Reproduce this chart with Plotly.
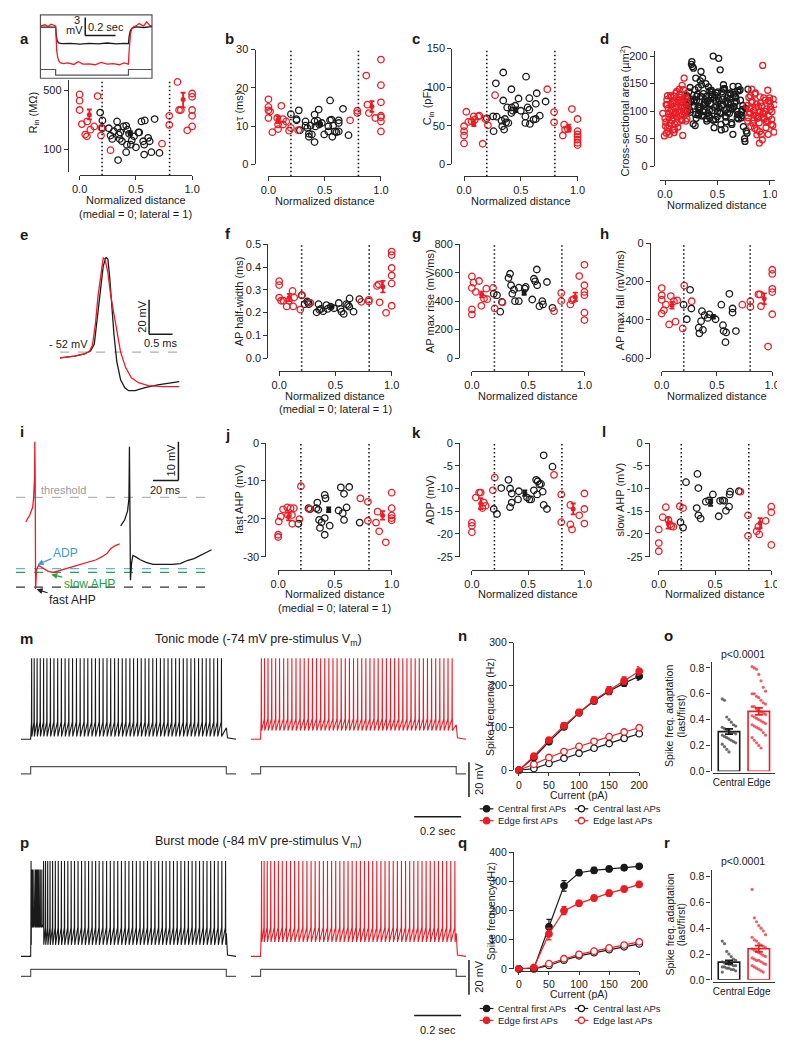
import numpy as np
import plotly.graph_objects as go

W, H = 785, 1050
FONT = "Liberation Sans, Arial, Helvetica, sans-serif"
RED = "#ec1c24"
BLK = "#1a1a1a"
AXC = "#333333"
GREY = "#8c8c8c"
TXT = "#1a1a1a"

BOUNDARIES = [0.2, 0.8]
XT_V = [0, 0.5, 1]
XT_T = ["0.0", "0.5", "1.0"]

# ---------------- panel a: input resistance ----------------
a_red_x = [0.0, 0.0, 0.0, 0.02, 0.05, 0.067, 0.065, 0.096, 0.13, 0.16, 0.19, 0.194, 0.275, 0.733, 0.797, 0.797, 0.87, 0.884, 0.9, 0.957, 1.0, 1.0, 1.0, 1.0, 1.0, 1.0, 1.0]
a_red_y = [446, 376, 292, 199, 150, 214, 143, 171, 187, 426, 146, 179, 98, 117, 249, 195, 625, 292, 292, 168, 1222, 795, 457, 418, 292, 249, 187]
a_blk_x = [0.183, 0.203, 0.203, 0.26, 0.275, 0.29, 0.333, 0.34, 0.348, 0.357, 0.362, 0.377, 0.414, 0.426, 0.44, 0.42, 0.414, 0.342, 0.464, 0.484, 0.501, 0.522, 0.53, 0.55, 0.565, 0.574, 0.58, 0.574, 0.609, 0.623, 0.638, 0.667, 0.71, 0.304, 0.39, 0.455]
a_blk_y = [272, 220, 178, 178, 146, 133, 214, 178, 150, 133, 159, 125, 190, 171, 153, 114, 93, 75, 128, 143, 106, 159, 159, 214, 125, 114, 220, 87, 137, 125, 93, 228, 91, 164, 187, 114]
a_mean_x = [0.087, 0.45, 0.92]
a_mean_y = [256, 155, 389]
a_mean_ep = [40, 9, 77]
a_mean_em = [30, 8, 75]
# inset traces (s, mV)
a_in_t_blk = [0, 0.05, 0.1, 0.104, 0.11, 0.12, 0.14, 0.2, 0.26, 0.32, 0.38, 0.44, 0.5, 0.55, 0.58, 0.584, 0.592, 0.605, 0.63, 0.68, 0.735]
a_in_v_blk = [0, 0.05, 0, -1.3, -2.3, -2.65, -2.75, -2.7, -2.85, -2.7, -2.8, -2.65, -2.8, -2.7, -2.75, -1.6, -0.6, -0.1, 0.05, -0.05, 0.1]
a_in_t_red = [0, 0.03, 0.05, 0.07, 0.1, 0.103, 0.107, 0.113, 0.12, 0.13, 0.15, 0.18, 0.22, 0.25, 0.28, 0.32, 0.36, 0.4, 0.44, 0.48, 0.52, 0.55, 0.58, 0.583, 0.587, 0.593, 0.6, 0.615, 0.63, 0.65, 0.68, 0.7, 0.72, 0.735]
a_in_v_red = [0.2, 0.4, 0.1, 0.5, 0.2, -2.0, -3.9, -5.0, -5.6, -5.95, -6.1, -6.0, -6.25, -5.8, -6.2, -6.15, -6.3, -5.9, -6.2, -6.1, -6.3, -6.0, -6.2, -4.5, -2.8, -1.2, -0.4, 0.1, 0.2, 0.6, 0.2, 0.9, 0.3, 0.2]
a_in_stim_t = [0, 0.1, 0.58, 0.735]
a_in_stim_i = [0, -1, 0, 0]

# ---------------- panel b: tau ----------------
b_red_x = [0, 0, 0, 0, 0.015, 0.035, 0.078, 0.086, 0.086, 0.115, 0.13, 0.13, 0.158, 0.184, 0.2, 0.265, 0.726, 0.79, 0.79, 0.87, 0.88, 0.893, 0.95, 1, 1, 1, 1, 1, 1, 1]
b_red_y = [17.0, 15.0, 14.1, 12.1, 13.8, 8.4, 12.1, 9.2, 10.4, 15.3, 11.8, 10.4, 11.2, 8.8, 9.5, 8.9, 11.5, 13.4, 14.0, 23.2, 15.6, 13.4, 12.1, 27.4, 20.7, 16.2, 12.7, 12.3, 11.2, 8.6]
b_blk_x = [0.2, 0.27, 0.25, 0.25, 0.28, 0.33, 0.33, 0.346, 0.36, 0.36, 0.386, 0.375, 0.41, 0.41, 0.418, 0.41, 0.447, 0.438, 0.452, 0.475, 0.496, 0.533, 0.533, 0.548, 0.548, 0.56, 0.576, 0.568, 0.59, 0.605, 0.625, 0.625, 0.625, 0.663, 0.712]
b_blk_y = [13.1, 14.1, 11.8, 11.5, 8.9, 11.2, 10.1, 9.5, 8.0, 7.2, 7.8, 10.1, 13.0, 11.2, 9.9, 5.8, 14.3, 11.4, 10.4, 10.8, 7.8, 8.6, 9.9, 16.7, 11.5, 11.7, 10.1, 7.2, 8.6, 8.4, 10.8, 11.5, 8.6, 14.5, 7.6]
b_mean_x = [0.086, 0.458, 0.92]
b_mean_y = [11.7, 10.5, 15.1]
b_mean_e = [0.9, 0.4, 1.4]

# ---------------- panel c: capacitance ----------------
c_red_x = [0, 0, 0, 0, 0.02, 0.037, 0.066, 0.086, 0.095, 0.124, 0.135, 0.164, 0.187, 0.21, 0.273, 0.733, 0.793, 0.793, 0.87, 0.882, 0.89, 0.914, 0.95, 1, 1, 1, 1, 1, 1, 1]
c_red_y = [27, 37.3, 42.9, 49.3, 68.1, 54.9, 55.7, 62.1, 57.9, 62.1, 63, 26.6, 58.7, 50.6, 89.6, 97.3, 67.7, 54.4, 37.3, 51.4, 45, 45.9, 71.6, 58.7, 42.9, 38.6, 35.6, 32.1, 27.9, 24.9]
c_blk_x = [0.2, 0.26, 0.28, 0.287, 0.256, 0.345, 0.345, 0.33, 0.336, 0.353, 0.36, 0.37, 0.39, 0.38, 0.417, 0.417, 0.42, 0.43, 0.45, 0.48, 0.5, 0.546, 0.54, 0.54, 0.56, 0.575, 0.575, 0.58, 0.612, 0.632, 0.632, 0.64, 0.667, 0.718]
c_blk_y = [59.6, 42.9, 105, 61.7, 62.1, 119, 82.7, 56.6, 49.3, 45, 58.7, 54.4, 53.6, 73.7, 97.3, 66.4, 73.7, 69.4, 75.9, 85.3, 69.4, 113.6, 53.6, 62.1, 73.7, 70.7, 85.7, 52.3, 57.9, 58.7, 78.4, 92.1, 63, 81.4]
c_mean_x = [0.086, 0.454, 0.922]
c_mean_y = [53.6, 70.7, 47]
c_mean_e = [4, 3, 4.5]

# ---------------- panel d: cross-sectional area ----------------
d_red_x = [0.00, 0.013, 0.021, 0.034, 0.038, 0.052, 0.061, 0.068, 0.083, 0.091, 0.097, 0.112, 0.118, 0.131, 0.142, 0.148, 0.163, 0.171, 0.179, 0.192, 0.198, 0.211,
           0.004, 0.018, 0.029, 0.047, 0.056, 0.077, 0.088, 0.106, 0.121, 0.137, 0.153, 0.166, 0.184, 0.203,
           -0.021, 0.008, 0.031, 0.042, 0.063, 0.072, 0.094, 0.103, 0.124, 0.128, 0.151, 0.158, 0.176, 0.188, 0.214,
           -0.006, 0.024, 0.049, 0.071, 0.081, 0.099, 0.133, 0.139, 0.161, 0.174, 0.194, 0.207,
           0.011, 0.037, 0.058, 0.086, 0.109, 0.144, 0.182, 0.209, 0.026, 0.116, 0.169,
           0.781, 0.793, 0.799, 0.812, 0.818, 0.831, 0.842, 0.848, 0.861, 0.869, 0.878, 0.891, 0.897, 0.911, 0.918, 0.932, 0.941, 0.947, 0.962, 0.968, 0.979, 0.991, 0.998, 1.012, 1.019, 1.031, 1.038, 1.052,
           0.788, 0.806, 0.827, 0.853, 0.872, 0.884, 0.906, 0.927, 0.951, 0.973, 0.986, 1.006, 1.027,
           0.803, 0.824, 0.836, 0.857, 0.881, 0.902, 0.923, 0.938, 0.957, 0.984, 1.002, 1.016, 1.043,
           0.815, 0.846, 0.876, 0.908, 0.931, 0.966, 0.996, 0.864, 0.899, 0.944]
d_red_y = [87, 60, 112, 95, 74, 128, 102, 84, 119, 66, 97, 136, 79, 108, 125, 91, 147, 115, 99, 131, 82, 118,
           73, 121, 63, 99, 113, 88, 127, 104, 71, 140, 118, 94, 109, 124,
           96, 80, 105, 58, 92, 117, 76, 133, 100, 122, 85, 110, 139, 93, 107,
           55, 128, 78, 115, 67, 95, 101, 130, 83, 121, 98, 103,
           112, 89, 126, 61, 107, 115, 160, 86, 70, 90, 56,
           110, 88, 125, 96, 72, 118, 101, 84, 133, 92, 66, 108, 79, 115, 58, 97, 124, 86, 70, 104, 138, 91, 117, 76, 99, 122, 62, 94,
           82, 105, 140, 69, 113, 90, 126, 48, 100, 83, 119, 108, 74,
           97, 116, 78, 131, 87, 63, 109, 95, 120, 58, 103, 85, 112,
           128, 93, 57, 100, 183, 80, 124, 107, 42, 89]
d_blk_x = [0.204, 0.226, 0.241, 0.262, 0.281, 0.297, 0.318, 0.334, 0.352, 0.371, 0.389, 0.402, 0.423, 0.441, 0.458, 0.477, 0.493, 0.512, 0.529, 0.546, 0.567, 0.583, 0.601, 0.618, 0.637, 0.652, 0.674, 0.693, 0.716, 0.738,
           0.219, 0.235, 0.256, 0.273, 0.291, 0.309, 0.326, 0.343, 0.362, 0.381, 0.396, 0.414, 0.432, 0.449, 0.468, 0.486, 0.503, 0.521, 0.538, 0.557, 0.574, 0.592, 0.611, 0.628, 0.647, 0.663, 0.684, 0.706, 0.727,
           0.208, 0.239, 0.268, 0.299, 0.327, 0.358, 0.386, 0.417, 0.447, 0.474, 0.508, 0.536, 0.563, 0.596, 0.624, 0.657, 0.688, 0.719, 0.747, 0.768, 0.791,
           0.252, 0.276, 0.303, 0.322, 0.347, 0.376, 0.398, 0.427, 0.452, 0.471, 0.497, 0.526, 0.551, 0.572, 0.603, 0.626, 0.648, 0.679, 0.702, 0.731, 0.758,
           0.213, 0.259, 0.287, 0.336, 0.367, 0.409, 0.438, 0.482, 0.517, 0.554, 0.587, 0.633, 0.668, 0.711, 0.774,
           0.244, 0.284, 0.314, 0.354, 0.393, 0.437, 0.459, 0.499, 0.541, 0.579, 0.617, 0.659, 0.697, 0.762,
           0.271, 0.315, 0.366, 0.411, 0.463, 0.516, 0.566, 0.614, 0.672, 0.742,
           0.231, 0.293, 0.339, 0.384, 0.426, 0.489, 0.533, 0.581, 0.642, 0.691, 0.734, 0.781]
d_blk_y = [112, 135, 98, 181, 120, 87, 143, 105, 126, 92, 150, 117, 101, 138, 84, 129, 110, 196, 96, 122, 141, 89, 115, 133, 76, 108, 124, 94, 139, 103,
           125, 102, 190, 117, 94, 131, 108, 172, 99, 121, 86, 144, 113, 127, 70, 118, 135, 97, 109, 148, 91, 124, 106, 131, 58, 115, 100, 137, 88,
           128, 143, 77, 119, 101, 160, 113, 92, 134, 107, 123, 66, 141, 97, 116, 131, 88, 120, 72, 105, 140,
           185, 109, 127, 95, 148, 116, 82, 137, 101, 124, 90, 175, 112, 68, 129, 104, 145, 118, 86, 99, 50,
           100, 122, 74, 155, 111, 96, 130, 85, 119, 140, 103, 79, 126, 94, 64,
           118, 139, 106, 91, 127, 114, 200, 99, 135, 81, 122, 108, 145, 45,
           178, 93, 132, 119, 84, 107, 141, 96, 125, 110,
           114, 160, 127, 101, 88, 133, 76, 118, 104, 137, 92, 60]

# ---------------- panel e: AP waveforms (ms, mV) ----------------
e_red_t = [0, 0.31, 0.52, 0.63, 0.69, 0.75, 0.81, 0.88, 0.92, 0.96, 1.02, 1.08, 1.15, 1.21, 1.29, 1.4, 1.52, 1.67, 1.88, 2.19, 2.54]
e_red_v = [-55.4, -54.3, -53.1, -51.4, -48, -36.6, -19.4, -4, 2.3, 1.7, -6.3, -19.4, -30.9, -41.1, -52, -61.1, -66.9, -69.7, -71.4, -72, -72]
e_blk_t = [0, 0.31, 0.52, 0.65, 0.73, 0.79, 0.85, 0.92, 0.98, 1.02, 1.06, 1.1, 1.15, 1.21, 1.29, 1.38, 1.46, 1.6, 1.81, 2.08, 2.54]
e_blk_v = [-55.4, -54.3, -53.1, -51.4, -47.4, -33.7, -16.6, -2.3, 2.9, 1.7, -9.7, -25.1, -42.3, -57.7, -68, -72.6, -74.3, -74.3, -72.6, -70.9, -69.1]
e_ref_v = -52

# ---------------- panels f, g, h ----------------
f_red_x = [0, 0, 0, 0.017, 0.038, 0.067, 0.087, 0.119, 0.133, 0.125, 0.188, 0.203, 0.278, 0.73, 0.797, 0.797, 0.87, 0.884, 0.893, 0.95, 1, 1, 1, 1, 1, 1]
f_red_y = [0.338, 0.321, 0.266, 0.252, 0.252, 0.227, 0.252, 0.295, 0.266, 0.227, 0.213, 0.276, 0.242, 0.247, 0.256, 0.249, 0.317, 0.324, 0.245, 0.199, 0.468, 0.453, 0.396, 0.363, 0.328, 0.23]
f_blk_x = [0.2, 0.226, 0.249, 0.26, 0.264, 0.333, 0.35, 0.357, 0.371, 0.391, 0.42, 0.43, 0.458, 0.487, 0.53, 0.545, 0.554, 0.574, 0.597, 0.612, 0.623, 0.626, 0.661, 0.713]
f_blk_y = [0.276, 0.237, 0.249, 0.245, 0.237, 0.201, 0.237, 0.212, 0.216, 0.206, 0.233, 0.216, 0.226, 0.219, 0.242, 0.216, 0.204, 0.194, 0.237, 0.233, 0.226, 0.262, 0.204, 0.259]
f_mean_x = [0.09, 0.464, 0.922]
f_mean_y = [0.266, 0.226, 0.314]
f_mean_e = [0.016, 0.006, 0.025]

g_red_x = [0, 0, 0, 0, 0.014, 0.035, 0.064, 0.084, 0.107, 0.128, 0.136, 0.188, 0.203, 0.272, 0.73, 0.794, 0.794, 0.875, 0.89, 0.904, 0.954, 1, 1, 1, 1, 1, 1]
g_red_y = [574, 493, 342, 307, 530, 465, 542, 367, 419, 488, 414, 493, 349, 391, 330, 458, 402, 377, 407, 414, 577, 656, 512, 465, 442, 319, 267]
g_blk_x = [0.194, 0.223, 0.252, 0.267, 0.325, 0.339, 0.348, 0.359, 0.374, 0.383, 0.417, 0.417, 0.47, 0.478, 0.536, 0.551, 0.562, 0.577, 0.58, 0.6, 0.626, 0.632, 0.667, 0.716]
g_blk_y = [453, 442, 326, 395, 563, 593, 512, 453, 481, 400, 400, 495, 488, 500, 412, 558, 540, 623, 512, 365, 400, 377, 535, 353]
g_mean_x = [0.087, 0.464, 0.919]
g_mean_y = [447, 460, 430]
g_mean_e = [20, 15, 30]

h_red_x = [0, 0, 0, 0, 0.02, 0.038, 0.067, 0.082, 0.111, 0.125, 0.14, 0.19, 0.204, 0.271, 0.729, 0.802, 0.802, 0.875, 0.889, 0.898, 0.962, 1, 1, 1, 1, 1]
h_red_y = [-234, -272, -295, -367, -350, -321, -424, -276, -303, -410, -298, -445, -221, -303, -321, -303, -333, -267, -267, -329, -540, -138, -160, -238, -255, -371]
h_blk_x = [0.198, 0.227, 0.257, 0.268, 0.335, 0.341, 0.356, 0.364, 0.373, 0.388, 0.417, 0.431, 0.487, 0.539, 0.554, 0.56, 0.577, 0.583, 0.612, 0.641, 0.641, 0.671]
h_blk_y = [-321, -397, -243, -341, -441, -471, -407, -355, -453, -376, -390, -372, -397, -321, -428, -459, -517, -466, -264, -341, -362, -459]
h_mean_x = [0.093, 0.466, 0.927]
h_mean_y = [-324, -384, -290]
h_mean_e = [18, 10, 28]

# ---------------- panel i: AHP / ADP traces (ms, mV) ----------------
i_red_t = [7.7, 10.8, 13.1, 13.8, 14.6, 14.8, 15.1, 15.4, 16.2, 17.7, 21.5, 25.4, 29.2, 34.6, 42.3, 50, 57.7, 63.1, 67.7, 71.5, 74.6, 77.7, 81.5]
i_red_v = [-51.4, -49.6, -47.6, -45.3, -40.1, -30.6, -40.1, -68.8, -63.7, -62.7, -63.5, -64.2, -64.5, -64, -63.2, -62.4, -61.7, -61.2, -60.4, -59.6, -58.3, -57.6, -57.1]
i_blk_t = [82.3, 85.4, 87.7, 88.8, 89.2, 89.6, 90, 90.8, 91.9, 93.8, 97.7, 102.3, 107.7, 115.4, 123.1, 129.2, 134.6, 140, 146.2, 150, 153.8]
i_blk_v = [-52.4, -50.9, -48.6, -45.3, -31.9, -45.3, -66.5, -62.2, -60.1, -60.4, -61.2, -61.9, -62.4, -62.4, -62.4, -62.2, -61.4, -60.9, -59.9, -59.4, -58.6]
i_levels = {"threshold": -45.0, "ADP": -63.5, "slow AHP": -64.5, "fast AHP": -68.3}

# ---------------- panels j, k, l ----------------
j_red_x = [0, 0, 0.005, 0.023, 0.043, 0.08, 0.086, 0.109, 0.121, 0.124, 0.138, 0.187, 0.2, 0.273, 0.724, 0.79, 0.79, 0.862, 0.876, 0.89, 0.948, 1, 1, 1, 1, 1]
j_red_y = [-24.2, -24.8, -20.7, -19.4, -17.5, -17.0, -19.0, -17.2, -19.0, -21.3, -17.2, -20.1, -11.4, -17.4, -14.6, -15.5, -20.5, -21.0, -18.1, -23.3, -26.2, -13.1, -17.2, -19.1, -19.8, -20.4]
j_blk_x = [0.178, 0.267, 0.28, 0.336, 0.345, 0.353, 0.36, 0.368, 0.382, 0.41, 0.417, 0.41, 0.41, 0.454, 0.532, 0.552, 0.569, 0.58, 0.58, 0.603, 0.626, 0.718]
j_blk_y = [-21.3, -17.2, -17.5, -17.2, -15.7, -17.6, -20.3, -22.4, -20.9, -13.7, -14.6, -19.8, -24.2, -21.8, -17.8, -11.7, -18.5, -13.4, -20.3, -17.0, -11.6, -21.0]
j_mean_x = [0.092, 0.445, 0.92]
j_mean_y = [-19.4, -17.6, -19.1]
j_mean_e = [1.0, 0.6, 1.1]

k_red_x = [0, 0, 0, 0.035, 0.064, 0.078, 0.093, 0.107, 0.122, 0.186, 0.203, 0.73, 0.794, 0.794, 0.875, 0.875, 0.89, 0.954, 1, 1, 1]
k_red_y = [-17.5, -18.2, -19.6, -12.0, -10.9, -10.9, -14.3, -13.1, -13.8, -10.4, -7.6, -7.0, -11.3, -17.4, -13.6, -17.9, -19.0, -15.9, -11.1, -14.5, -17.7]
k_blk_x = [0.194, 0.223, 0.261, 0.325, 0.339, 0.354, 0.354, 0.339, 0.41, 0.417, 0.49, 0.51, 0.527, 0.551, 0.571, 0.585, 0.614, 0.58, 0.6, 0.629, 0.638, 0.667, 0.638, 0.716]
k_blk_y = [-14.5, -15.6, -9.9, -8.1, -14.1, -13.1, -11.1, -10.0, -12.4, -10.6, -12.0, -12.4, -12.4, -10.4, -8.1, -8.4, -9.0, -11.3, -9.1, -10.7, -13.6, -14.5, -2.7, -5.2]
k_mean_x = [0.078, 0.47, 0.9]
k_mean_y = [-13.3, -11.0, -14.5]
k_mean_e = [1.2, 0.6, 1.2]

l_red_x = [0, 0, 0, 0.035, 0.063, 0.086, 0.1, 0.112, 0.13, 0.187, 0.216, 0.726, 0.793, 0.793, 0.87, 0.885, 0.893, 0.95, 1, 1, 1]
l_red_y = [-19.0, -22.0, -23.8, -16.3, -14.1, -16.9, -17.9, -18.3, -18.4, -13.9, -14.3, -10.7, -15.9, -20.4, -19.4, -18.4, -20.1, -17.1, -14.0, -15.2, -22.4]
l_blk_x = [0.193, 0.216, 0.242, 0.344, 0.337, 0.352, 0.372, 0.352, 0.418, 0.447, 0.481, 0.533, 0.545, 0.568, 0.582, 0.597, 0.625, 0.63, 0.634, 0.712]
l_blk_y = [-17.4, -18.6, -8.6, -6.8, -14.3, -15.9, -16.6, -9.9, -12.9, -12.6, -11.3, -16.1, -12.7, -12.6, -12.7, -14.9, -14.0, -11.3, -10.7, -10.6]
l_mean_x = [0.084, 0.461, 0.9]
l_mean_y = [-17.6, -13.1, -17.6]
l_mean_e = [1.2, 0.7, 1.1]

# ---------------- panels m, p: spike trains (spike times, ms) ----------------
m_blk_spikes = [55, 68, 83, 99, 116, 133, 151, 169, 188, 207, 226, 245, 264, 284, 303, 323, 342, 362, 381, 401, 420, 440, 459, 479, 498, 518, 537, 557, 576, 596, 615, 635, 654, 674, 693, 713, 732, 752, 771, 791, 810, 830, 849, 869, 888, 908, 927, 947, 966, 986, 1005, 1025]
m_red_spikes = [54, 70, 88, 107, 127, 147, 168, 189, 210, 231, 252, 273, 294, 315, 336, 357, 378, 399, 420, 441, 462, 483, 504, 525, 546, 567, 588, 609, 630, 651, 672, 693, 714, 735, 756, 777, 798, 819, 840, 861, 882, 903, 924, 945, 966, 987, 1008, 1029]
p_blk_spikes = [52, 54.5, 57, 59.5, 62.5, 65.5, 69, 72.5, 76.5, 81, 86, 92, 99, 107, 116, 126, 137, 149, 162, 176, 191, 207, 223, 240, 257, 274, 292, 310, 328, 346, 364, 382, 400, 419, 438, 457, 476, 495, 514, 533, 552, 571, 590, 609, 628, 647, 666, 685, 704, 723, 742, 761, 780, 799, 818, 837, 856, 875, 894, 913, 932, 951, 970, 989, 1008, 1027, 1046]
p_red_spikes = [55, 68, 84, 102, 121, 141, 161, 182, 203, 224, 245, 266, 287, 308, 329, 350, 371, 392, 413, 434, 455, 476, 497, 518, 539, 560, 581, 602, 623, 644, 665, 686, 707, 728, 749, 770, 791, 812, 833, 854, 875, 896, 917, 938, 959, 980, 1001, 1022, 1043]
STIM_ON, STIM_OFF, T_END = 50, 1050, 1100

# ---------------- panels n, q: f-I curves ----------------
current_pA = [0, 25, 50, 75, 100, 125, 150, 175, 200]
n_central_first = [0, 30, 67, 102, 135, 163, 186, 205, 221]
n_central_first_err = [0, 4, 5, 6, 6, 7, 8, 8, 9]
n_edge_first = [0, 33, 71, 105, 136, 165, 188, 211, 233]
n_edge_first_err = [0, 5, 6, 7, 7, 8, 9, 9, 10]
n_central_last = [0, 4, 16, 28, 40, 52, 63, 75, 86]
n_central_last_err = [0, 2, 2, 3, 3, 3, 3, 3, 4]
n_edge_last = [0, 14, 30, 44, 56, 68, 79, 90, 100]
n_edge_last_err = [0, 2, 3, 3, 3, 3, 4, 4, 4]

q_central_first = [0, 2, 145, 285, 330, 338, 343, 347, 352]
q_central_first_err = [0, 2, 25, 18, 10, 10, 9, 9, 9]
q_edge_first = [0, 5, 120, 200, 225, 243, 260, 274, 290]
q_edge_first_err = [0, 3, 20, 14, 10, 10, 10, 10, 10]
q_central_last = [0, 0, 12, 30, 45, 56, 66, 76, 86]
q_central_last_err = [0, 0, 3, 3, 3, 3, 3, 4, 4]
q_edge_last = [0, 0, 18, 35, 50, 61, 72, 82, 93]
q_edge_last_err = [0, 0, 3, 3, 3, 3, 4, 4, 4]

# ---------------- panels o, r: adaptation ratios ----------------
o_central = [0.56, 0.55, 0.42, 0.40, 0.38, 0.36, 0.35, 0.34, 0.33, 0.32, 0.31, 0.30, 0.30, 0.29, 0.28, 0.27, 0.26, 0.25, 0.24, 0.23, 0.22, 0.21, 0.19, 0.17, 0.15]
o_edge = [0.81, 0.80, 0.79, 0.75, 0.70, 0.65, 0.62, 0.60, 0.60, 0.58, 0.57, 0.55, 0.53, 0.52, 0.50, 0.50, 0.48, 0.47, 0.46, 0.45, 0.44, 0.43, 0.42, 0.41, 0.40, 0.39, 0.38, 0.37, 0.36, 0.35, 0.34, 0.33, 0.32, 0.30, 0.28, 0.26, 0.24, 0.22, 0.20, 0.18]
r_central = [0.30, 0.28, 0.22, 0.20, 0.18, 0.16, 0.15, 0.14, 0.13, 0.13, 0.12, 0.12, 0.11, 0.11, 0.10, 0.10, 0.09, 0.09, 0.08, 0.08, 0.07, 0.06]
r_edge = [0.70, 0.48, 0.45, 0.42, 0.40, 0.38, 0.35, 0.33, 0.31, 0.30, 0.28, 0.27, 0.26, 0.25, 0.24, 0.23, 0.22, 0.21, 0.20, 0.19, 0.18, 0.17, 0.16, 0.15, 0.15, 0.14, 0.13, 0.12, 0.11, 0.10, 0.09, 0.08, 0.07, 0.06]


# =====================================================================
def px(x):
    return x / W


def py(y):
    return 1 - y / H


fig = go.Figure()
LAY = dict(width=W, height=H, margin=dict(l=0, r=0, t=0, b=0), paper_bgcolor="white",
           plot_bgcolor="rgba(0,0,0,0)", showlegend=False,
           font=dict(family=FONT, size=11, color=TXT))
ANN, SHP = [], []
_n = [0]
DOT = "1.5px,2.5px"


def new_axes(xdom, ydom, xr, yr, ylog=False):
    _n[0] += 1
    k = _n[0]
    s = "" if k == 1 else str(k)
    LAY["xaxis" + s] = dict(domain=[px(xdom[0]), px(xdom[1])], range=list(xr), visible=False, showgrid=False,
                            zeroline=False, fixedrange=True, anchor="y" + s)
    LAY["yaxis" + s] = dict(domain=[py(ydom[1]), py(ydom[0])], range=list(yr), visible=False, showgrid=False,
                            zeroline=False, fixedrange=True, anchor="x" + s, type="log" if ylog else "linear")
    return "x" + s, "y" + s, s


def axis_common(fs=11):
    return dict(visible=True, showline=True, linecolor=AXC, linewidth=1.3, ticks="outside", ticklen=4,
                tickwidth=1.3, tickcolor=AXC, tickfont=dict(family=FONT, size=fs, color=TXT),
                ticklabeloverflow="allow", tickangle=0)


def style_x(s, line_y, tv, tt, fs=11):
    d = axis_common(fs)
    d.update(anchor="free", position=py(line_y), tickvals=tv, ticktext=tt)
    LAY["xaxis" + s].update(d)


def style_y(s, line_x, tv, tt, fs=11):
    d = axis_common(fs)
    d.update(anchor="free", position=px(line_x), tickvals=tv, ticktext=tt)
    LAY["yaxis" + s].update(d)


def text(x, y, s, size=11, color=TXT, angle=0, xanchor="center", yanchor="middle"):
    ANN.append(dict(x=px(x), y=py(y), xref="paper", yref="paper", text=s, showarrow=False,
                    font=dict(family=FONT, size=size, color=color), textangle=angle,
                    xanchor=xanchor, yanchor=yanchor))


def label(x, y, s):
    text(x, y, "<b>%s</b>" % s, size=15, xanchor="left")


def line_trace(x, y, xa, ya, color, width=1.2, dash=None, shape="linear"):
    fig.add_trace(go.Scatter(x=x, y=y, mode="lines", line=dict(color=color, width=width, dash=dash, shape=shape),
                             xaxis=xa, yaxis=ya, hoverinfo="skip", cliponaxis=False))


def dist_panel(letter, lpos, ylx, xdom, ydom, xly, yr, ytv, ytt, ytitle, ytx, red, blk, means=None,
               two_line=False, ylog=False, xr=(0, 1), dotted=True, ytitle_y=None):
    xa, ya, s = new_axes(xdom, ydom, xr, yr, ylog)
    style_x(s, xly, XT_V, XT_T)
    style_y(s, ylx, ytv, ytt)
    label(lpos[0], lpos[1], letter)
    text(ytx, ytitle_y if ytitle_y else (ydom[0] + ydom[1]) / 2, ytitle, angle=-90)
    xc = xdom[0] + (0.5 - xr[0]) / (xr[1] - xr[0]) * (xdom[1] - xdom[0])
    text(xc, xly + 25, "Normalized distance")
    if two_line:
        text(xc, xly + 39, "(medial = 0; lateral = 1)")
    if dotted:
        for bx in BOUNDARIES:
            SHP.append(dict(type="line", xref=xa, yref="paper", x0=bx, x1=bx, y0=py(xly), y1=py(ydom[0]),
                            line=dict(color=BLK, width=1.6, dash=DOT)))
    ms = 6.5 if means is not None else 6
    fig.add_trace(go.Scatter(x=blk[0], y=blk[1], mode="markers", xaxis=xa, yaxis=ya, cliponaxis=False,
                             marker=dict(symbol="circle-open", size=ms, color=BLK, line=dict(width=1.3))))
    fig.add_trace(go.Scatter(x=red[0], y=red[1], mode="markers", xaxis=xa, yaxis=ya, cliponaxis=False,
                             marker=dict(symbol="circle-open", size=ms, color=RED, line=dict(width=1.3))))
    if means is not None:
        mx, my, mep, mem = means
        cols = [RED, BLK, RED]
        for i in range(3):
            fig.add_trace(go.Scatter(x=[mx[i]], y=[my[i]], mode="markers", xaxis=xa, yaxis=ya, cliponaxis=False,
                                     marker=dict(symbol="circle", size=5, color=cols[i]),
                                     error_y=dict(type="data", symmetric=False, array=[mep[i]],
                                                  arrayminus=[mem[i]], color=cols[i], thickness=1.8, width=2.5)))


# ---------------- row 1 ----------------
dist_panel("a", (2, 25), 53, (65, 180), (67, 160), 163, [np.log10(54), np.log10(655)], [100, 500], ["100", "500"],
           "R<sub>in</sub> (MΩ)", 18, (a_red_x, a_red_y), (a_blk_x, a_blk_y),
           (a_mean_x, a_mean_y, a_mean_ep, a_mean_em), two_line=True, ylog=True, ytitle_y=100)
dist_panel("b", (212, 25), 244, (258, 373), (36, 152), 164, [0, 30], [0, 10, 20, 30], ["0", "10", "20", "30"],
           "τ (ms)", 228, (b_red_x, b_red_y), (b_blk_x, b_blk_y), (b_mean_x, b_mean_y, b_mean_e, b_mean_e))
dist_panel("c", (403, 25), 445, (458, 574), (35, 152), 164, [0, 150], [0, 50, 100, 150], ["0", "50", "100", "150"],
           "C<sub>in</sub> (pF)", 422, (c_red_x, c_red_y), (c_blk_x, c_blk_y), (c_mean_x, c_mean_y, c_mean_e, c_mean_e))
dist_panel("d", (595, 25), 652, (658, 776), (37, 154), 168, [0, 210], [0, 50, 100, 150, 200],
           ["0", "50", "100", "150", "200"], "Cross-sectional area (µm<sup>2</sup>)", 622,
           (d_red_x, d_red_y), (d_blk_x, d_blk_y), None, xr=(-0.05, 1.05), dotted=False, ytitle_y=98)

# inset of a
xa, ya, s = new_axes((25, 139), (0.8, 65), (0, 0.735), (-8.57, 2.08))
SHP.append(dict(type="rect", xref="paper", yref="paper", x0=px(25), x1=px(139), y0=py(65), y1=py(0.8),
                line=dict(color="#555555", width=1.2), fillcolor="white", layer="below"))
line_trace(a_in_t_blk, a_in_v_blk, xa, ya, BLK, 1.3)
line_trace(a_in_t_red, a_in_v_red, xa, ya, RED, 1.3)
SHP.append(dict(type="line", xref=xa, yref=ya, x0=0.295, x1=0.295, y0=-1.38, y1=1.62, line=dict(color=BLK, width=1.5)))
SHP.append(dict(type="line", xref=xa, yref=ya, x0=0.295, x1=0.495, y0=-1.38, y1=-1.38, line=dict(color=BLK, width=1.5)))
text(62, 6, "3", size=11)
text(60, 16, "mV", size=11)
text(92, 13, "0.2 sec", size=11)
xa, ya, s = new_axes((25, 139), (55, 63), (0, 0.735), (-1.2, 0.2))
line_trace(a_in_stim_t, a_in_stim_i, xa, ya, "#555555", 1.2, shape="hv")

# ---------------- row 2 ----------------
label(2, 223, "e")
xa, ya, s = new_axes((40, 175), (235, 392), (-0.104, 2.708), (-80.57, 9.14))
line_trace([0, 2.54], [e_ref_v, e_ref_v], xa, ya, "#b0b0b0", 1.2, dash="dash")
line_trace(e_blk_t, e_blk_v, xa, ya, BLK, 1.3)
line_trace(e_red_t, e_red_v, xa, ya, RED, 1.3)
SHP.append(dict(type="line", xref=xa, yref=ya, x0=1.896, x1=1.896, y0=-41.7, y1=-21.7, line=dict(color=BLK, width=1.5)))
SHP.append(dict(type="line", xref=xa, yref=ya, x0=1.896, x1=2.396, y0=-41.7, y1=-41.7, line=dict(color=BLK, width=1.5)))
text(128, 306, "20 mV", angle=-90)
text(148, 333, "0.5 ms")
text(76, 334, "- 52 mV", xanchor="right")

dist_panel("f", (212, 222), 257, (269, 384), (233, 348), 361, [0, 0.5], [0, 0.1, 0.2, 0.3, 0.4, 0.5],
           ["0.0", "0.1", "0.2", "0.3", "0.4", "0.5"], "AP half-width (ms)", 228,
           (f_red_x, f_red_y), (f_blk_x, f_blk_y), (f_mean_x, f_mean_y, f_mean_e, f_mean_e), two_line=True)
dist_panel("g", (403, 222), 453, (466, 581), (233, 348), 361, [0, 800], [0, 200, 400, 600, 800],
           ["0", "200", "400", "600", "800"], "AP max rise (mV/ms)", 423,
           (g_red_x, g_red_y), (g_blk_x, g_blk_y), (g_mean_x, g_mean_y, g_mean_e, g_mean_e))
dist_panel("h", (595, 222), 648, (660, 773), (232, 348), 361, [-600, 0], [-600, -400, -200, 0],
           ["-600", "-400", "-200", "0"], "AP max fall (mV/ms)", 617,
           (h_red_x, h_red_y), (h_blk_x, h_blk_y), (h_mean_x, h_mean_y, h_mean_e, h_mean_e))

# ---------------- row 3 ----------------
label(2, 422, "i")
xa, ya, s = new_axes((0, 205), (425, 600), (0, 157.7), (-73.5, -28.6))
lvl_cols = {"threshold": "#b5b5b5", "ADP": "#5ab4e8", "slow AHP": "#2aa04a", "fast AHP": "#333333"}
for name, v in i_levels.items():
    line_trace([0, 154], [v, v], xa, ya, lvl_cols[name], 1.3, dash="dash")
line_trace(i_red_t, i_red_v, xa, ya, RED, 1.3)
line_trace(i_blk_t, i_blk_v, xa, ya, BLK, 1.3)
SHP.append(dict(type="line", xref=xa, yref=ya, x0=127.7, x1=127.7, y0=-40.6, y1=-30.6, line=dict(color=BLK, width=1.5)))
SHP.append(dict(type="line", xref=xa, yref=ya, x0=107.7, x1=127.7, y0=-40.6, y1=-40.6, line=dict(color=BLK, width=1.5)))
text(158, 452, "10 mV", angle=-90)
text(152, 482, "20 ms")
text(23, 482, "threshold", color="#9a9a9a", xanchor="left")


def arrow_note(hx, hy, tx, ty, s, color):
    ANN.append(dict(x=px(hx), y=py(hy), xref="paper", yref="paper", ax=tx - hx, ay=ty - hy, axref="pixel",
                    ayref="pixel", text=s, showarrow=True, arrowhead=2, arrowsize=1, arrowwidth=1.2,
                    arrowcolor=color, font=dict(family=FONT, size=12, color=color)))


arrow_note(22, 557, 50, 545, "ADP", "#3a9ad9")
arrow_note(36, 567, 74, 576, "slow AHP", "#22a040")
arrow_note(21, 582, 57, 593, "fast AHP", "#222222")

dist_panel("j", (212, 425), 255, (268, 384), (434, 549), 562, [-30, 0], [-30, -20, -10, 0],
           ["-30", "-20", "-10", "0"], "fast AHP (mV)", 228,
           (j_red_x, j_red_y), (j_blk_x, j_blk_y), (j_mean_x, j_mean_y, j_mean_e, j_mean_e), two_line=True)
dist_panel("k", (403, 423), 453, (466, 581), (434, 549), 562, [-25, 0], [-25, -20, -15, -10, -5, 0],
           ["-25", "-20", "-15", "-10", "-5", "0"], "ADP (mV)", 423,
           (k_red_x, k_red_y), (k_blk_x, k_blk_y), (k_mean_x, k_mean_y, k_mean_e, k_mean_e))
dist_panel("l", (597, 422), 647, (657, 772), (434, 549), 562, [-25, 0], [-25, -20, -15, -10, -5, 0],
           ["-25", "-20", "-15", "-10", "-5", "0"], "slow AHP (mV)", 617,
           (l_red_x, l_red_y), (l_blk_x, l_blk_y), (l_mean_x, l_mean_y, l_mean_e, l_mean_e))


# ---------------- rows 4/5 spike trains ----------------
def train_xy(times, v_rest, v_thr, v_peak, v_ahp):
    t = [0, STIM_ON]
    v = [v_rest, v_rest]
    prev = None
    for st in times:
        burst = prev is not None and st - prev < 9
        t += [st - 1.0, st, st + 1.0]
        v += [v_thr, v_peak - (6 if burst else 0), v_ahp + (14 if burst else 0)]
        prev = st
    t += [STIM_OFF, STIM_OFF + 6, T_END]
    v += [v_thr - 4, v_rest + 1, v_rest]
    return t, v


def train_panel(times, color, xdom, ydom, v_rest, v_thr, v_peak, v_ahp, stim_y):
    xa, ya, s = new_axes(xdom, ydom, (0, T_END), (-92, -10))
    t, v = train_xy(times, v_rest, v_thr, v_peak, v_ahp)
    line_trace(t, v, xa, ya, color, 1.1)
    xa2, ya2, s2 = new_axes(xdom, stim_y, (0, T_END), (-0.2, 1.2))
    line_trace([0, STIM_ON, STIM_OFF, T_END], [0, 1, 0, 0], xa2, ya2, "#555555", 1.2, shape="hv")
    return xa, ya


label(2, 632, "m")
text(248, 633, "Tonic mode (-74 mV pre-stimulus V<sub>m</sub>)", size=12.5)
train_panel(m_blk_spikes, BLK, (5, 225), (640, 760), -74, -62, -18, -72, (760, 770))
train_panel(m_red_spikes, RED, (240, 460), (640, 760), -74, -60, -18, -68, (760, 770))
SHP.append(dict(type="line", xref="paper", yref="paper", x0=px(463), x1=px(463), y0=py(757), y1=py(792), line=dict(color=BLK, width=1.5)))
SHP.append(dict(type="line", xref="paper", yref="paper", x0=px(407), x1=px(455), y0=py(812), y1=py(812), line=dict(color=BLK, width=1.5)))
text(473, 774, "20 mV", angle=-90)
text(431, 826, "0.2 sec")

label(2, 838, "p")
text(248, 838, "Burst mode (-84 mV pre-stimulus V<sub>m</sub>)", size=12.5)
train_panel(p_blk_spikes, BLK, (5, 225), (845, 965), -84, -64, -18, -76, (965, 975))
train_panel(p_red_spikes, RED, (240, 460), (845, 965), -84, -64, -18, -74, (965, 975))
SHP.append(dict(type="line", xref="paper", yref="paper", x0=px(463), x1=px(463), y0=py(957), y1=py(992), line=dict(color=BLK, width=1.5)))
SHP.append(dict(type="line", xref="paper", yref="paper", x0=px(407), x1=px(455), y0=py(1013), y1=py(1013), line=dict(color=BLK, width=1.5)))
text(473, 974, "20 mV", angle=-90)
text(431, 1028, "0.2 sec")


# ---------------- f-I panels ----------------
def legend_item(x, y, col, filled, s):
    SHP.append(dict(type="line", xref="paper", yref="paper", x0=px(x - 7), x1=px(x + 7), y0=py(y), y1=py(y),
                    line=dict(color=col, width=1.2)))
    SHP.append(dict(type="circle", xref="paper", yref="paper", x0=px(x - 3.2), x1=px(x + 3.2), y0=py(y + 3.2),
                    y1=py(y - 3.2), line=dict(color=col, width=1.3), fillcolor=col if filled else "white"))
    text(x + 10, y, s, size=9.5, xanchor="left")


def fi_panel(letter, lpos, ylx, xdom, ydom, xly, yr, ytv, series, leg_y):
    xa, ya, s = new_axes(xdom, ydom, (0, 200), yr)
    style_x(s, xly, [0, 50, 100, 150, 200], ["0", "50", "100", "150", "200"], fs=10.5)
    LAY["xaxis" + s].update(ticklen=3)
    style_y(s, ylx, ytv, [str(v) for v in ytv], fs=10.5)
    label(lpos[0], lpos[1], letter)
    text(485, (ydom[0] + ydom[1]) / 2, "Spike frequency (Hz)", size=10.5, angle=-90)
    text((xdom[0] + xdom[1]) / 2, xly + 23, "Current (pA)", size=10.5)
    for ys, es, col, filled in series:
        fig.add_trace(go.Scatter(x=current_pA, y=ys, mode="lines+markers", xaxis=xa, yaxis=ya, cliponaxis=False,
                                 line=dict(color=col, width=1.2),
                                 marker=dict(symbol="circle", size=6.5, color=col if filled else "white",
                                             line=dict(width=1.3, color=col)),
                                 error_y=dict(type="data", array=es, color=col, thickness=1.2, width=2.5)))
    legend_item(481, leg_y, BLK, True, "Central first APs")
    legend_item(578, leg_y, BLK, False, "Central last APs")
    legend_item(481, leg_y + 12, RED, True, "Edge first APs")
    legend_item(578, leg_y + 12, RED, False, "Edge last APs")


fi_panel("n", (450, 629), 508, (514, 637), (636, 765), 767, [0, 300], [0, 100, 200, 300],
         [(n_central_last, n_central_last_err, BLK, False), (n_edge_last, n_edge_last_err, RED, False),
          (n_central_first, n_central_first_err, BLK, True), (n_edge_first, n_edge_first_err, RED, True)], 804)
fi_panel("q", (450, 838), 508, (514, 637), (848, 966), 968, [0, 400], [0, 100, 200, 300, 400],
         [(q_central_last, q_central_last_err, BLK, False), (q_edge_last, q_edge_last_err, RED, False),
          (q_central_first, q_central_first_err, BLK, True), (q_edge_first, q_edge_first_err, RED, True)], 1006)


# ---------------- adaptation bar panels ----------------
def bar_panel(letter, lpos, ylx, xdom, ydom, xly, yr, central, edge, ptxt_y):
    xa, ya, s = new_axes(xdom, ydom, (-0.55, 1.55), yr)
    style_x(s, xly, [0, 1], ["Central", "Edge"], fs=10)
    style_y(s, ylx, [0, 0.2, 0.4, 0.6, 0.8], ["0.0", "0.2", "0.4", "0.6", "0.8"], fs=10.5)
    LAY["xaxis" + s].update(ticks="")
    label(lpos[0], lpos[1], letter)
    text(743, ptxt_y, "p<0.0001", size=10.5)
    text(668, (ydom[0] + ydom[1]) / 2, "Spike freq. adaptation", size=10.5, angle=-90)
    text(680, (ydom[0] + ydom[1]) / 2, "(last/first)", size=10.5, angle=-90)
    groups = [(central, BLK, "rgba(60,60,60,0.75)"), (edge, RED, "rgba(236,28,36,0.7)")]
    means = [float(np.mean(g[0])) for g in groups]
    fig.add_trace(go.Bar(x=[0, 1], y=means, width=0.72, xaxis=xa, yaxis=ya,
                         marker=dict(color="white", line=dict(color=[BLK, RED], width=1.6))))
    for i, (vals, col, dcol) in enumerate(groups):
        vals = sorted(vals, reverse=True)
        xs = [i + ((k % 7) - 3) * 0.075 for k in range(len(vals))]
        fig.add_trace(go.Scatter(x=xs, y=vals, mode="markers", xaxis=xa, yaxis=ya, cliponaxis=False,
                                 marker=dict(symbol="circle", size=3.2, color=dcol)))
        se = float(np.std(vals, ddof=1) / np.sqrt(len(vals)))
        fig.add_trace(go.Scatter(x=[i], y=[means[i]], mode="markers", xaxis=xa, yaxis=ya,
                                 marker=dict(size=1, color=col),
                                 error_y=dict(type="data", array=[se], color=col, thickness=1.8, width=4)))


bar_panel("o", (660, 629), 710, (712, 776), (655, 766), 768, [0, 0.85], o_central, o_edge, 647)
bar_panel("r", (660, 838), 710, (712, 776), (866, 977), 979, [0, 0.85], r_central, r_edge, 857)

LAY["annotations"] = ANN
LAY["shapes"] = SHP
fig.update_layout(**LAY)
fig.write_html("out.html")
